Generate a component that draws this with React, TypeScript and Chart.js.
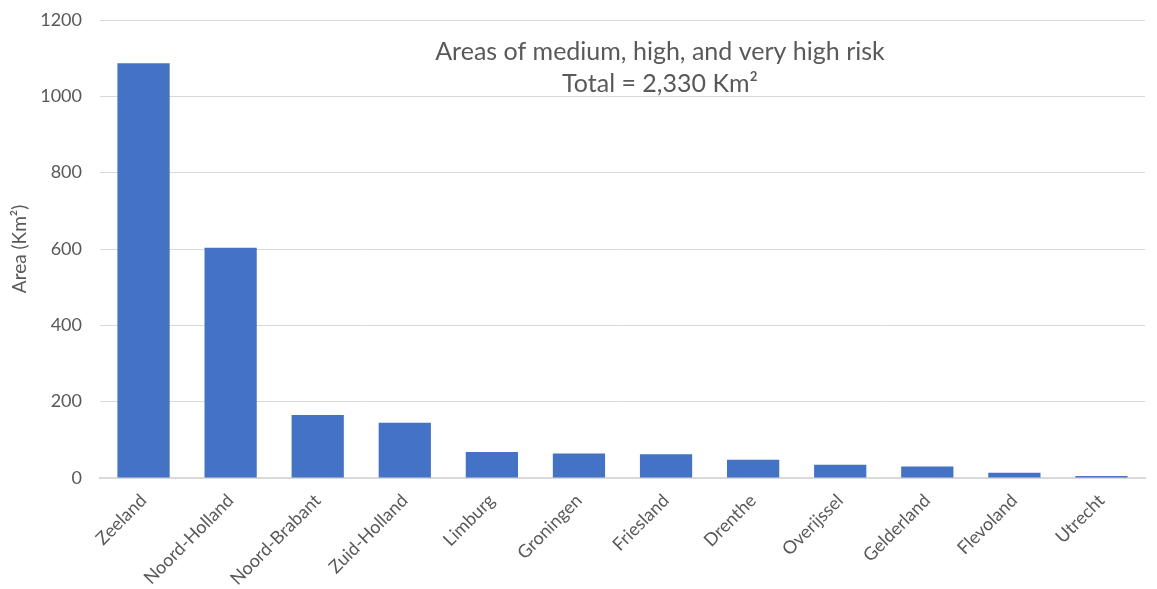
import React, { useEffect, useRef } from "react";
import { Chart, registerables } from "chart.js";

Chart.register(...registerables);

const categories = [
  "Zeeland",
  "Noord-Holland",
  "Noord-Brabant",
  "Zuid-Holland",
  "Limburg",
  "Groningen",
  "Friesland",
  "Drenthe",
  "Overijssel",
  "Gelderland",
  "Flevoland",
  "Utrecht",
];
const areaValues = [1087, 603, 165, 145, 68, 64, 62, 48, 35, 30, 14, 5];
const titleLines = ["Areas of medium, high, and very high risk", "Total = 2,330 Km²"];
const yAxisTitle = "Area (Km²)";

const FONT = "Lato, 'Open Sans', sans-serif";
const TEXT = "#595959";

const innerTitle = {
  id: "innerTitle",
  afterDraw(chart: any) {
    const { ctx, chartArea } = chart;
    ctx.save();
    ctx.fillStyle = TEXT;
    ctx.font = `25px ${FONT}`;
    ctx.textAlign = "center";
    ctx.textBaseline = "middle";
    const cx = 660;
    ctx.fillText(titleLines[0], cx, chartArea.top + 32);
    ctx.fillText(titleLines[1], cx, chartArea.top + 64);
    ctx.restore();
  },
};

export default function App() {
  const ref = useRef<HTMLCanvasElement>(null);
  useEffect(() => {
    document.body.style.margin = "0";
    const chart = new Chart(ref.current!, {
      type: "bar",
      data: {
        labels: categories,
        datasets: [
          {
            data: areaValues,
            backgroundColor: "#4472C4",
            borderWidth: 0,
            categoryPercentage: 1,
            barPercentage: 0.6,
          },
        ],
      },
      options: {
        responsive: false,
        animation: false,
        layout: { padding: { top: 20, right: 12, left: 0, bottom: 0 } },
        plugins: { legend: { display: false }, title: { display: false }, tooltip: { enabled: false } },
        scales: {
          x: {
            grid: { display: false },
            border: { color: "#D9D9D9", width: 2 },
            ticks: {
              color: TEXT,
              font: { family: FONT, size: 18 },
              maxRotation: 45,
              minRotation: 45,
              padding: 4,
            },
            afterFit: (s: any) => {
              s.height = 111;
            },
          },
          y: {
            min: 0,
            max: 1200,
            ticks: {
              stepSize: 200,
              color: TEXT,
              font: { family: FONT, size: 18 },
              padding: 18,
              callback: (v: any) => String(v),
            },
            grid: { color: "#D9D9D9", lineWidth: 1, drawTicks: false },
            border: { display: false },
            title: {
              display: true,
              text: yAxisTitle,
              color: TEXT,
              font: { family: FONT, size: 19 },
              padding: { top: 8, bottom: 4 },
            },
            afterFit: (s: any) => {
              s.width = 100;
              s.paddingTop = 0;
              s.paddingBottom = 0;
            },
          },
        },
      },
      plugins: [innerTitle],
    });
    return () => chart.destroy();
  }, []);
  return <canvas ref={ref} width={1157} height={589} style={{ display: "block" }} />;
}
